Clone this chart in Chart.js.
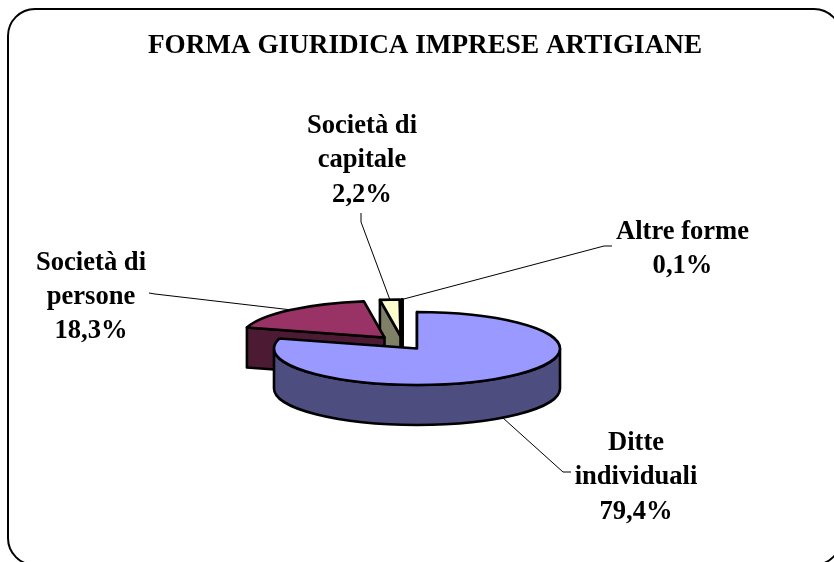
<!DOCTYPE html>
<html lang="it">
<head>
<meta charset="utf-8">
<title>Forma giuridica imprese artigiane</title>
<script src="https://cdn.jsdelivr.net/npm/chart.js@4.4.7/dist/chart.umd.min.js"></script>
<style>
  html, body { margin: 0; padding: 0; background: #fff; overflow: hidden; }
  canvas { display: block; }
</style>
</head>
<body>
<canvas id="pie" width="834" height="562"></canvas>
<script>
// ---- Data ----
var titleText = "FORMA GIURIDICA IMPRESE ARTIGIANE";
var categories = ["Ditte individuali", "Società di persone", "Società di capitale", "Altre forme"];
var categoryLines = [["Ditte", "individuali"], ["Società di", "persone"], ["Società di", "capitale"], ["Altre forme"]];
var shares = [79.4, 18.3, 2.2, 0.1];

// ---- Styles ----
var topColors = ["#9999FF", "#993366", "#FFFFCC", "#CCFFFF"];
var sideColors = ["#4D4D80", "#4D1A33", "#808066", "#668080"];
var FONT = "bold 26.6px 'Liberation Serif'";
var TITLE_FONT = "bold 27.2px 'Liberation Serif'";
var SQUASH = 0.255;   // ellipse height / width
var DEPTH = 40;
var STROKE = 2.6;

// slice shift from the pie centre, back to front paint order
var explode = [[0, 0], [-32.5, -11], [-16.5, -12.5], [-14.5, -12.5]];
var paintOrder = [2, 3, 1, 0];

// label block: centre x, first baseline
var labelPos = [[636, 450], [91, 269.5], [362, 133], [682.5, 239]];
var LINE_H = 34.3;
var leaders = [
  [[503, 418], [563, 472], [571, 472]],
  [[149, 293], [155, 294], [292, 310]],
  [[361, 213], [361, 222], [390, 300]],
  [[612, 246], [604, 246], [400, 300]]
];

function drawWall(ctx, cx, cy, rx, ry, a, color) {
  var ox = cx + rx * Math.cos(a);
  var oy = cy + ry * Math.sin(a);
  ctx.beginPath();
  ctx.moveTo(cx, cy);
  ctx.lineTo(ox, oy);
  ctx.lineTo(ox, oy + DEPTH);
  ctx.lineTo(cx, cy + DEPTH);
  ctx.closePath();
  ctx.fillStyle = color;
  ctx.fill();
  ctx.stroke();
}

function drawSlice(ctx, arc, i) {
  var cx = arc.x + explode[i][0];
  var cy = arc.y + explode[i][1];
  var rx = arc.outerRadius;
  var ry = rx * SQUASH;
  var a0 = arc.startAngle;
  var a1 = arc.endAngle;

  ctx.lineWidth = STROKE;
  ctx.lineJoin = "round";
  ctx.strokeStyle = "#000";

  // radial walls, only when they face the viewer
  if (Math.cos(a0) < 1e-6) drawWall(ctx, cx, cy, rx, ry, a0, sideColors[i]);
  if (Math.cos(a1) > -1e-6) drawWall(ctx, cx, cy, rx, ry, a1, sideColors[i]);

  // outer rim, only the part facing the viewer
  var r0 = Math.max(a0, 0);
  var r1 = Math.min(a1, Math.PI);
  if (r1 > r0) {
    ctx.beginPath();
    ctx.ellipse(cx, cy, rx, ry, 0, r0, r1);
    ctx.ellipse(cx, cy + DEPTH, rx, ry, 0, r1, r0, true);
    ctx.closePath();
    ctx.fillStyle = sideColors[i];
    ctx.fill();
    ctx.stroke();
  }

  // top face
  ctx.beginPath();
  ctx.moveTo(cx, cy);
  ctx.ellipse(cx, cy, rx, ry, 0, a0, a1);
  ctx.closePath();
  ctx.fillStyle = topColors[i];
  ctx.fill();
  ctx.stroke();
}

// ---- 3D pie plugin: takes the arc angles from Chart.js, draws them flattened ----
var pie3d = {
  id: "pie3d",
  beforeDraw: function (chart) {
    var ctx = chart.ctx;
    ctx.save();
    ctx.lineWidth = 2;
    ctx.strokeStyle = "#000";
    ctx.beginPath();
    ctx.roundRect(8, 9, 833, 556, 27);
    ctx.stroke();

    // title sits right of the canvas centre, so the built-in title can't place it
    ctx.font = TITLE_FONT;
    ctx.fillStyle = "#000";
    ctx.textAlign = "center";
    ctx.fillText(titleText, 425, 53);
    ctx.restore();
  },
  beforeDatasetsDraw: function (chart) {
    var ctx = chart.ctx;
    var arcs = chart.getDatasetMeta(0).data;
    ctx.save();

    // leader lines go under the slices
    ctx.lineWidth = 1;
    ctx.strokeStyle = "#000";
    leaders.forEach(function (pts) {
      ctx.beginPath();
      pts.forEach(function (p, k) {
        if (k === 0) ctx.moveTo(p[0], p[1]);
        else ctx.lineTo(p[0], p[1]);
      });
      ctx.stroke();
    });

    paintOrder.forEach(function (i) {
      drawSlice(ctx, arcs[i], i);
    });

    // data labels
    ctx.font = FONT;
    ctx.fillStyle = "#000";
    ctx.textAlign = "center";
    ctx.textBaseline = "alphabetic";
    categories.forEach(function (name, i) {
      var lines = categoryLines[i].concat([shares[i].toFixed(1).replace(".", ",") + "%"]);
      lines.forEach(function (line, k) {
        ctx.fillText(line, labelPos[i][0], labelPos[i][1] + k * LINE_H);
      });
    });

    ctx.restore();
    return false; // skip the flat default arcs
  }
};

new Chart(document.getElementById("pie"), {
  type: "pie",
  data: {
    labels: categories,
    datasets: [{
      data: shares,
      backgroundColor: topColors,
      radius: 143
    }]
  },
  options: {
    responsive: false,
    animation: false,
    layout: { padding: { top: 135 } },
    plugins: {
      legend: { display: false },
      tooltip: { enabled: false },
      title: { display: false }
    }
  },
  plugins: [pie3d]
});
</script>
</body>
</html>
